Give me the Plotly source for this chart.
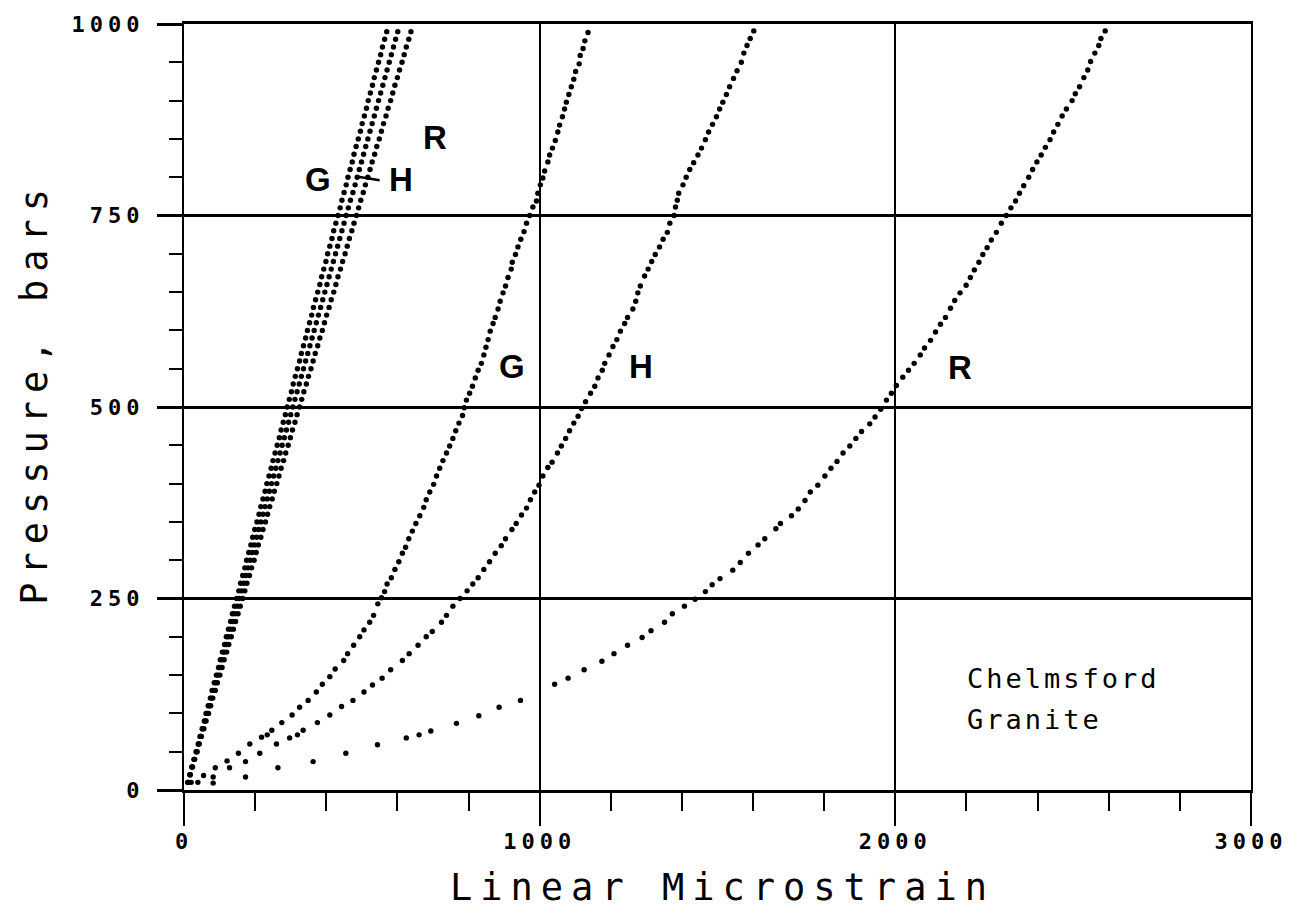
import plotly.graph_objects as go

# ---- Steep family (three directions), pressure every 10 bars ----
bundle_pressure = [10, 20, 30, 40, 50, 60, 70, 80, 90, 100, 110, 120, 130, 140, 150, 160, 170, 180, 190, 200,
                   210, 220, 230, 240, 250, 260, 270, 280, 290, 300, 310, 320, 330, 340, 350, 360, 370, 380, 390, 400,
                   410, 420, 430, 440, 450, 460, 470, 480, 490, 500, 510, 520, 530, 540, 550, 560, 570, 580, 590, 600,
                   610, 620, 630, 640, 650, 660, 670, 680, 690, 700, 710, 720, 730, 740, 750, 760, 770, 780, 790, 800,
                   810, 820, 830, 840, 850, 860, 870, 880, 890, 900, 910, 920, 930, 940, 950, 960, 970, 980, 990]
bundle_g = [11, 17, 22, 28, 34, 40, 45, 51, 57, 62, 68, 74, 79, 85, 91, 97, 102, 108, 114, 119,
            125, 131, 136, 142, 148, 154, 159, 165, 171, 176, 182, 188, 193, 199, 205, 211, 216, 222, 228, 233,
            239, 245, 250, 256, 262, 268, 273, 279, 285, 290, 296, 302, 307, 313, 319, 325, 330, 336, 342, 347,
            353, 359, 364, 370, 376, 382, 387, 393, 399, 404, 410, 416, 421, 427, 433, 439, 444, 450, 456, 461,
            467, 473, 478, 484, 490, 496, 501, 507, 513, 518, 524, 530, 535, 541, 547, 553, 558, 564, 570]
bundle_h = [11, 17, 23, 29, 35, 41, 47, 53, 59, 65, 71, 77, 83, 89, 95, 101, 107, 113, 119, 125,
            131, 137, 143, 150, 155, 162, 168, 174, 180, 186, 192, 198, 204, 210, 216, 222, 228, 234, 240, 246,
            252, 258, 264, 270, 276, 282, 288, 294, 300, 306, 312, 318, 324, 330, 336, 342, 348, 354, 360, 366,
            372, 378, 384, 390, 396, 402, 408, 414, 420, 426, 432, 438, 444, 450, 456, 462, 468, 475, 481, 487,
            493, 499, 505, 511, 517, 523, 529, 535, 541, 547, 553, 559, 565, 571, 577, 583, 589, 595, 601]
bundle_r = [11, 17, 24, 30, 37, 43, 49, 56, 62, 69, 75, 81, 88, 94, 101, 107, 113, 120, 126, 133,
            139, 145, 152, 158, 165, 171, 177, 184, 190, 197, 203, 209, 216, 222, 229, 235, 241, 248, 254, 261,
            267, 273, 280, 286, 293, 299, 305, 312, 318, 325, 331, 337, 344, 350, 357, 363, 369, 376, 382, 389,
            395, 401, 408, 414, 421, 427, 433, 440, 446, 453, 459, 465, 472, 478, 485, 491, 497, 504, 510, 517,
            523, 529, 536, 542, 549, 555, 561, 568, 574, 581, 587, 593, 600, 606, 613, 619, 625, 632, 638]

# ---- Curve G ----
g_strain = [20, 55, 88, 121, 153, 185, 218, 234, 247, 275, 304, 325, 349, 372, 389, 410, 425, 449, 460, 477,
            494, 506, 522, 533, 545, 555, 564, 571, 583, 593, 604, 614, 623, 632, 642, 652, 663, 674, 681, 691,
            702, 710, 719, 728, 738, 747, 756, 764, 773, 783, 788, 794, 803, 811, 819, 827, 836, 843, 849, 855,
            861, 869, 875, 883, 889, 897, 904, 911, 920, 923, 932, 939, 947, 956, 963, 972, 981, 991, 995, 1002,
            1009, 1014, 1023, 1028, 1036, 1044, 1051, 1056, 1064, 1070, 1075, 1082, 1089, 1096, 1101, 1111, 1114,
            1122, 1127, 1136]
g_pressure = [10, 19, 29, 38, 48, 60, 69, 72, 78, 88, 98, 108, 117, 128, 138, 148, 158, 169, 178, 189,
              200, 209, 219, 228, 243, 251, 259, 269, 277, 288, 298, 309, 317, 328, 338, 348, 358, 369, 379, 389,
              399, 410, 420, 430, 440, 449, 459, 469, 479, 489, 499, 509, 518, 527, 538, 548, 557, 568, 578, 588,
              599, 609, 617, 628, 638, 649, 658, 669, 680, 689, 699, 709, 719, 729, 740, 750, 761, 769, 779, 790,
              799, 808, 820, 829, 838, 848, 859, 868, 879, 889, 898, 908, 918, 928, 938, 948, 959,
              968, 978, 989]

# ---- Curve H ----
h_strain = [39, 82, 128, 173, 213, 260, 297, 319, 335, 375, 410, 443, 475, 506, 530, 557, 581, 614, 633, 658,
            681, 698, 724, 738, 756, 776, 796, 812, 827, 843, 859, 875, 892, 904, 922, 934, 949, 963, 974, 986,
            998, 1009, 1023, 1035, 1050, 1061, 1073, 1084, 1096, 1108, 1118, 1129, 1143, 1155, 1164, 1176, 1183,
            1195, 1206, 1217, 1227, 1239, 1247, 1262, 1270, 1276, 1283, 1295, 1305, 1315, 1325, 1337, 1347, 1359,
            1366, 1378, 1382, 1387, 1391, 1403, 1412, 1422, 1433, 1445, 1455, 1466, 1475, 1486, 1497, 1506, 1515,
            1525, 1534, 1545, 1555, 1567, 1574, 1583, 1592, 1602]
h_pressure = [10, 17, 29, 37, 48, 60, 68, 72, 78, 88, 98, 109, 117, 128, 137, 146, 157, 169, 178, 189,
              200, 207, 219, 228, 240, 250, 260, 269, 277, 288, 298, 309, 319, 328, 340, 348, 359, 368, 379, 389,
              398, 410, 421, 428, 440, 449, 459, 469, 479, 488, 498, 507, 518, 527, 538, 548, 557,
              568, 579, 588, 599, 609, 617, 628, 638, 649, 658, 671, 680, 690, 699, 709, 719, 728,
              740, 750, 761, 770, 779, 790, 800, 810, 819, 829, 838, 849, 859, 869, 879, 889, 898,
              908, 918, 929, 939, 950, 962, 972, 981, 991]

# ---- Curve R ----
r_strain = [82, 173, 264, 363, 455, 544, 625, 661, 694, 766, 829, 886, 946, 1042, 1080, 1125, 1175, 1209, 1247,
            1288, 1313, 1351, 1373, 1407, 1437, 1466, 1485, 1507, 1543, 1564, 1587, 1614, 1633, 1664, 1677, 1708,
            1727, 1746, 1761, 1782, 1802, 1819, 1836, 1853, 1872, 1889, 1905, 1928, 1943, 1959, 1975, 1989, 2003,
            2021, 2037, 2053, 2070, 2082, 2099, 2113, 2127, 2141, 2155, 2167, 2182, 2199, 2211, 2222, 2235, 2246,
            2258, 2270, 2284, 2298, 2312, 2325, 2338, 2349, 2361, 2375, 2386, 2398, 2410, 2422, 2435, 2445, 2457,
            2469, 2481, 2497, 2506, 2518, 2530, 2541, 2549, 2561, 2572, 2578, 2590]
r_pressure = [9, 17, 29, 37, 48, 59, 68, 72, 77, 87, 97, 108, 117, 138, 146, 157, 168, 178, 189,
              199, 208, 219, 230, 240, 249, 259, 268, 276, 287, 297, 309, 320, 328, 341, 348, 358,
              367, 378, 389, 398, 410, 420, 429, 440, 449, 459, 468, 478, 487, 497, 509, 518, 528,
              539, 548, 557, 568, 577, 587, 598, 608, 617, 629, 639, 649, 659, 669, 679, 689, 699,
              708, 718, 728, 740, 750, 760, 769, 779, 789, 800, 810, 820, 829, 839, 849, 859, 869,
              880, 889, 900, 909, 918, 930, 940, 951, 962, 972, 981, 991]

# ---- Axis ticks and labels ----
x_major = [0, 1000, 2000, 3000]
x_labels = ["0", "1000", "2000", "3000"]
y_major = [0, 250, 500, 750, 1000]
y_labels = ["0", "250", "500", "750", "1000"]

MONO = "DejaVu Sans Mono"
dot = dict(color="black", size=5.4)

fig = go.Figure()
for name, xs in (("G", bundle_g), ("H", bundle_h), ("R", bundle_r)):
    fig.add_trace(go.Scatter(x=xs, y=bundle_pressure, mode="markers", marker=dot,
                             name=name + " (steep)", showlegend=False))
for name, xs, ys in (("G", g_strain, g_pressure), ("H", h_strain, h_pressure), ("R", r_strain, r_pressure)):
    fig.add_trace(go.Scatter(x=xs, y=ys, mode="markers", marker=dot, name=name, showlegend=False))


def spaced(text, px):
    return f'<span style="letter-spacing:{px}px">{text}</span>'


tick_font = dict(family=MONO, size=22, color="black", weight="bold")

fig.update_xaxes(
    range=[0, 3000], tickmode="array", tickvals=x_major,
    ticktext=[spaced(t, 5) for t in x_labels],
    ticks="outside", ticklen=33, tickwidth=2, tickcolor="black",
    minor=dict(dtick=200, tick0=0, ticks="outside", ticklen=18, tickwidth=2, tickcolor="black", showgrid=False),
    showgrid=True, gridcolor="black", gridwidth=1.5,
    showline=True, linecolor="black", linewidth=2.5, mirror=True,
    zeroline=False, tickfont=tick_font, ticklabelstandoff=-3,
)
fig.update_yaxes(
    range=[0, 1000], tickmode="array", tickvals=y_major,
    ticktext=[spaced(t, 5) for t in y_labels],
    ticks="outside", ticklen=25, tickwidth=2.5, tickcolor="black",
    minor=dict(dtick=50, tick0=0, ticks="outside", ticklen=13, tickwidth=2, tickcolor="black", showgrid=False),
    showgrid=True, gridcolor="black", gridwidth=2.5,
    showline=True, linecolor="black", linewidth=2, mirror=True,
    zeroline=False, tickfont=tick_font, ticklabelstandoff=8,
)

label_font = dict(family="Liberation Sans", size=33, color="black", weight="bold")
curve_labels = [
    ("G", 377, 797), ("H", 611, 797), ("R", 705, 852),
    ("G", 923, 553), ("H", 1286, 553), ("R", 2183, 552),
]
for txt, xv, yv in curve_labels:
    fig.add_annotation(x=xv, y=yv, text=txt, showarrow=False, font=label_font,
                       xanchor="center", yanchor="middle")

# leader from the H label to its steep line
fig.add_shape(type="line", x0=485, y0=801, x1=550, y1=796, line=dict(color="black", width=2.5))

note_font = dict(family=MONO, size=27, color="black")
fig.add_annotation(x=2195, y=146, text=spaced("Chelmsford", 3), showarrow=False, font=note_font,
                   xanchor="left", yanchor="middle")
fig.add_annotation(x=2195, y=92, text=spaced("Granite", 3), showarrow=False, font=note_font,
                   xanchor="left", yanchor="middle")

title_font = dict(family=MONO, size=37, color="black")
fig.add_annotation(xref="paper", yref="paper", x=0.505, y=-0.127, text=spaced("Linear Microstrain", 8),
                   showarrow=False, font=title_font, xanchor="center", yanchor="middle")
fig.add_annotation(xref="paper", yref="paper", x=-0.14, y=0.518, text=spaced("Pressure, bars", 8),
                   showarrow=False, font=title_font, xanchor="center", yanchor="middle", textangle=-90)

fig.update_layout(
    width=1300, height=913,
    margin=dict(l=184, r=49, t=15, b=123),
    paper_bgcolor="white", plot_bgcolor="white",
    showlegend=False,
)

fig.write_html("out.html")
